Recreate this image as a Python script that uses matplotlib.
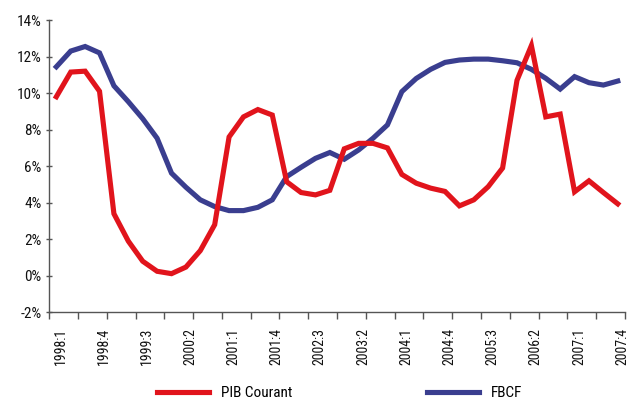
import matplotlib
matplotlib.use("Agg")
import matplotlib.pyplot as plt
from matplotlib import font_manager
from matplotlib.ticker import FixedLocator, FuncFormatter

# ---- data ----
quarters = [f"{y}:{q}" for y in range(1998, 2008) for q in range(1, 5)]
pib_courant = [9.8, 11.15, 11.2, 10.1, 3.4, 1.9, 0.8, 0.25, 0.12, 0.48,
               1.38, 2.8, 7.6, 8.7, 9.1, 8.8, 5.15, 4.56, 4.43, 4.68,
               6.95, 7.25, 7.25, 7.0, 5.55, 5.07, 4.8, 4.62, 3.83, 4.16,
               4.88, 5.9, 10.7, 12.6, 8.7, 8.85, 4.6, 5.2, 4.56, 3.94]
fbcf = [11.44, 12.3, 12.55, 12.2, 10.4, 9.53, 8.6, 7.53, 5.62, 4.85,
        4.16, 3.79, 3.57, 3.57, 3.75, 4.16, 5.43, 5.94, 6.43, 6.75,
        6.38, 6.89, 7.53, 8.26, 10.08, 10.8, 11.3, 11.68, 11.81, 11.86,
        11.86, 11.77, 11.66, 11.3, 10.81, 10.22, 10.9, 10.57, 10.44, 10.66]
series_names = ["PIB Courant", "FBCF"]
y_ticks = [-2, 0, 2, 4, 6, 8, 10, 12, 14]
label_step = 3
mark_step = 2

# ---- font ----
available = {f.name for f in font_manager.fontManager.ttflist}
family = "DejaVu Sans"
for cand in ["Liberation Sans Narrow", "Roboto Condensed", "Liberation Sans", "Roboto"]:
    if cand in available:
        family = cand
        break
plt.rcParams["font.family"] = [family, "DejaVu Sans"]

RED = "#E1141C"
BLUE = "#3A3E8F"
AXC = "#555555"

fig = plt.figure(figsize=(6.3, 4.0), dpi=100)
ax = fig.add_axes([0.078, 0.219, 0.914, 0.731])

x = list(range(len(quarters)))
l1, = ax.plot(x, pib_courant, color=RED, lw=3.7, solid_joinstyle="miter",
              label=series_names[0], zorder=3)
l2, = ax.plot(x, fbcf, color=BLUE, lw=3.7, solid_joinstyle="miter",
              label=series_names[1], zorder=2)

ax.set_xlim(-0.5, len(quarters) - 0.5)
ax.set_ylim(-2, 14)

for s in ["top", "right"]:
    ax.spines[s].set_visible(False)
for s in ["left", "bottom"]:
    ax.spines[s].set_color(AXC)
    ax.spines[s].set_linewidth(1.0)

ax.set_yticks(y_ticks)
ax.yaxis.set_major_formatter(FuncFormatter(lambda v, p: f"{int(v)}%"))
ax.tick_params(axis="y", direction="inout", length=5, width=1, color=AXC,
               labelsize=11, pad=3, labelcolor="#111111")

label_idx = list(range(0, len(quarters), label_step))
ax.xaxis.set_major_locator(FixedLocator([i + 0.3 for i in label_idx]))
ax.set_xticklabels([quarters[i] for i in label_idx], rotation=90)
ax.tick_params(axis="x", which="major", length=0, labelsize=10, pad=11,
               labelcolor="#111111")
ax.xaxis.set_minor_locator(FixedLocator([i - 0.5 for i in range(0, len(quarters) + 1, mark_step)]))
ax.tick_params(axis="x", which="minor", direction="out", length=5, width=1, color=AXC)

fig.legend(handles=[l1, l2], loc="lower center", bbox_to_anchor=(0.539, -0.035),
           ncol=2, frameon=False, fontsize=11, handlelength=3.4, handletextpad=0.8,
           columnspacing=8.8)

fig.savefig("out.png", dpi=100)
